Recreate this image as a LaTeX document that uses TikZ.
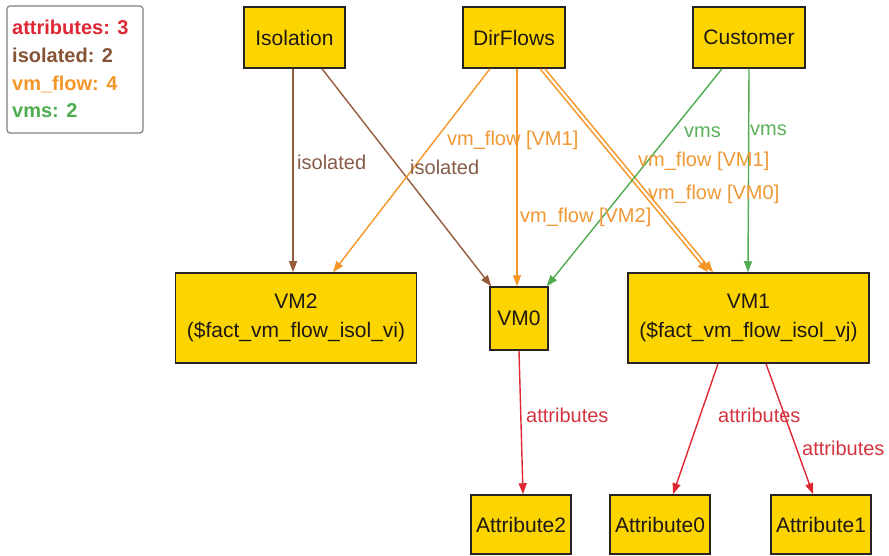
\documentclass[tikz,border=0pt]{standalone}
\usepackage{fontspec}
\setmainfont{Liberation Sans}
\usetikzlibrary{arrows.meta,calc}
\definecolor{boxfill}{RGB}{252,212,0}
\definecolor{boxline}{RGB}{40,35,30}
\definecolor{boxtext}{RGB}{30,25,20}
\definecolor{cred}{RGB}{222,40,52}
\definecolor{cbrown}{RGB}{150,92,60}
\definecolor{corange}{RGB}{244,150,40}
\definecolor{cgreen}{RGB}{80,172,80}
\definecolor{lred}{RGB}{212,52,64}
\definecolor{lbrown}{RGB}{135,92,72}
\definecolor{lorange}{RGB}{240,152,52}
\definecolor{lgreen}{RGB}{92,176,92}
\definecolor{legendline}{RGB}{130,130,130}
\begin{document}
\begin{tikzpicture}[x=1pt,y=-1pt,
  box/.style={draw=boxline, line width=1.5pt, fill=boxfill, text=boxtext, inner sep=0pt,
    font=\fontsize{21}{29}\selectfont, align=center},
  topbox/.style={box, minimum height=61pt},
  attrbox/.style={box, minimum width=100pt, minimum height=59pt},
  vmbox/.style={box, minimum width=241pt, minimum height=90pt},
  edge/.style={line width=1.4pt, -{Triangle[length=11pt,width=8pt]}},
  lbl/.style={anchor=base west, inner sep=0pt, font=\fontsize{20}{24}\selectfont},
  leg/.style={anchor=base west, inner sep=0pt, font=\fontsize{20}{24}\selectfont\bfseries},
]
\useasboundingbox (0,0) rectangle (889,556);
\fill[white] (0,0) rectangle (889,556);

% legend
\node[draw=legendline, rounded corners=3pt, line width=1.2pt, minimum width=136pt,
  minimum height=127pt, inner sep=0pt] (legend) at (75,69.5) {};
\node[leg, text=cred] (lg1) at (12,35) {attributes: 3};
\node[leg, text=cbrown!90!black] (lg2) at (12,63) {isolated: 2};
\node[leg, text=corange] (lg3) at (12,91) {vm\_flow: 4};
\node[leg, text=cgreen] (lg4) at (12,118) {vms: 2};

% nodes
\node[topbox, minimum width=101pt] (iso) at (294.5,37.5) {Isolation};
\node[topbox, minimum width=102pt] (dir) at (514,37.5) {DirFlows};
\node[topbox, minimum width=112pt] (cust) at (749,37.5) {Customer};
\node[vmbox] (vm2) at (296,318) {VM2\\(\$fact\_vm\_flow\_isol\_vi)};
\node[box, minimum width=58pt, minimum height=63pt] (vm0) at (519,318.5) {VM0};
\node[vmbox] (vm1) at (748.5,318) {VM1\\(\$fact\_vm\_flow\_isol\_vj)};
\node[attrbox] (a2) at (521,524.5) {Attribute2};
\node[attrbox] (a0) at (660,524.5) {Attribute0};
\node[attrbox] (a1) at (821,524.5) {Attribute1};

% edges
\draw[edge, cbrown] ([xshift=-1.5pt]iso.south) -- ([xshift=-3pt]vm2.north);
\draw[edge, cbrown] ([xshift=27.5pt]iso.south) -- ([xshift=2pt]vm0.north west);
\draw[edge, corange] ([xshift=-24pt]dir.south) -- ([xshift=37pt]vm2.north);
\draw[edge, corange] ([xshift=3pt]dir.south) -- ([xshift=-2pt]vm0.north);
\draw[edge, corange] ([xshift=26pt]dir.south) -- ([xshift=-40.5pt]vm1.north);
\draw[edge, corange] ([xshift=31pt]dir.south) -- ([xshift=-35.5pt]vm1.north);
\draw[edge, cgreen] ([xshift=-27pt]cust.south) -- ([xshift=-2pt]vm0.north east);
\draw[edge, cgreen] (cust.south) -- ([xshift=-0.5pt]vm1.north);
\draw[edge, cred] (vm0.south) -- ([xshift=2pt]a2.north);
\draw[edge, cred] ([xshift=-30.5pt]vm1.south) -- ([xshift=13pt]a0.north);
\draw[edge, cred] ([xshift=17.5pt]vm1.south) -- ([xshift=-8pt]a1.north);

% edge labels
\node[lbl, text=lbrown] (t1) at (297,170) {isolated};
\node[lbl, text=lbrown] (t2) at (410,175) {isolated};
\node[lbl, text=lorange] (t3) at (447,146) {vm\_flow [VM1]};
\node[lbl, text=lorange] (t4) at (520,223) {vm\_flow [VM2]};
\node[lbl, text=lorange] (t5) at (638,167) {vm\_flow [VM1]};
\node[lbl, text=lorange] (t6) at (648,200) {vm\_flow [VM0]};
\node[lbl, text=lgreen] (t7) at (684,138) {vms};
\node[lbl, text=lgreen] (t8) at (750,136) {vms};
\node[lbl, text=lred] (t9) at (526,422) {attributes};
\node[lbl, text=lred] (t10) at (718,422) {attributes};
\node[lbl, text=lred] (t11) at (802,455) {attributes};
\end{tikzpicture}
\end{document}
